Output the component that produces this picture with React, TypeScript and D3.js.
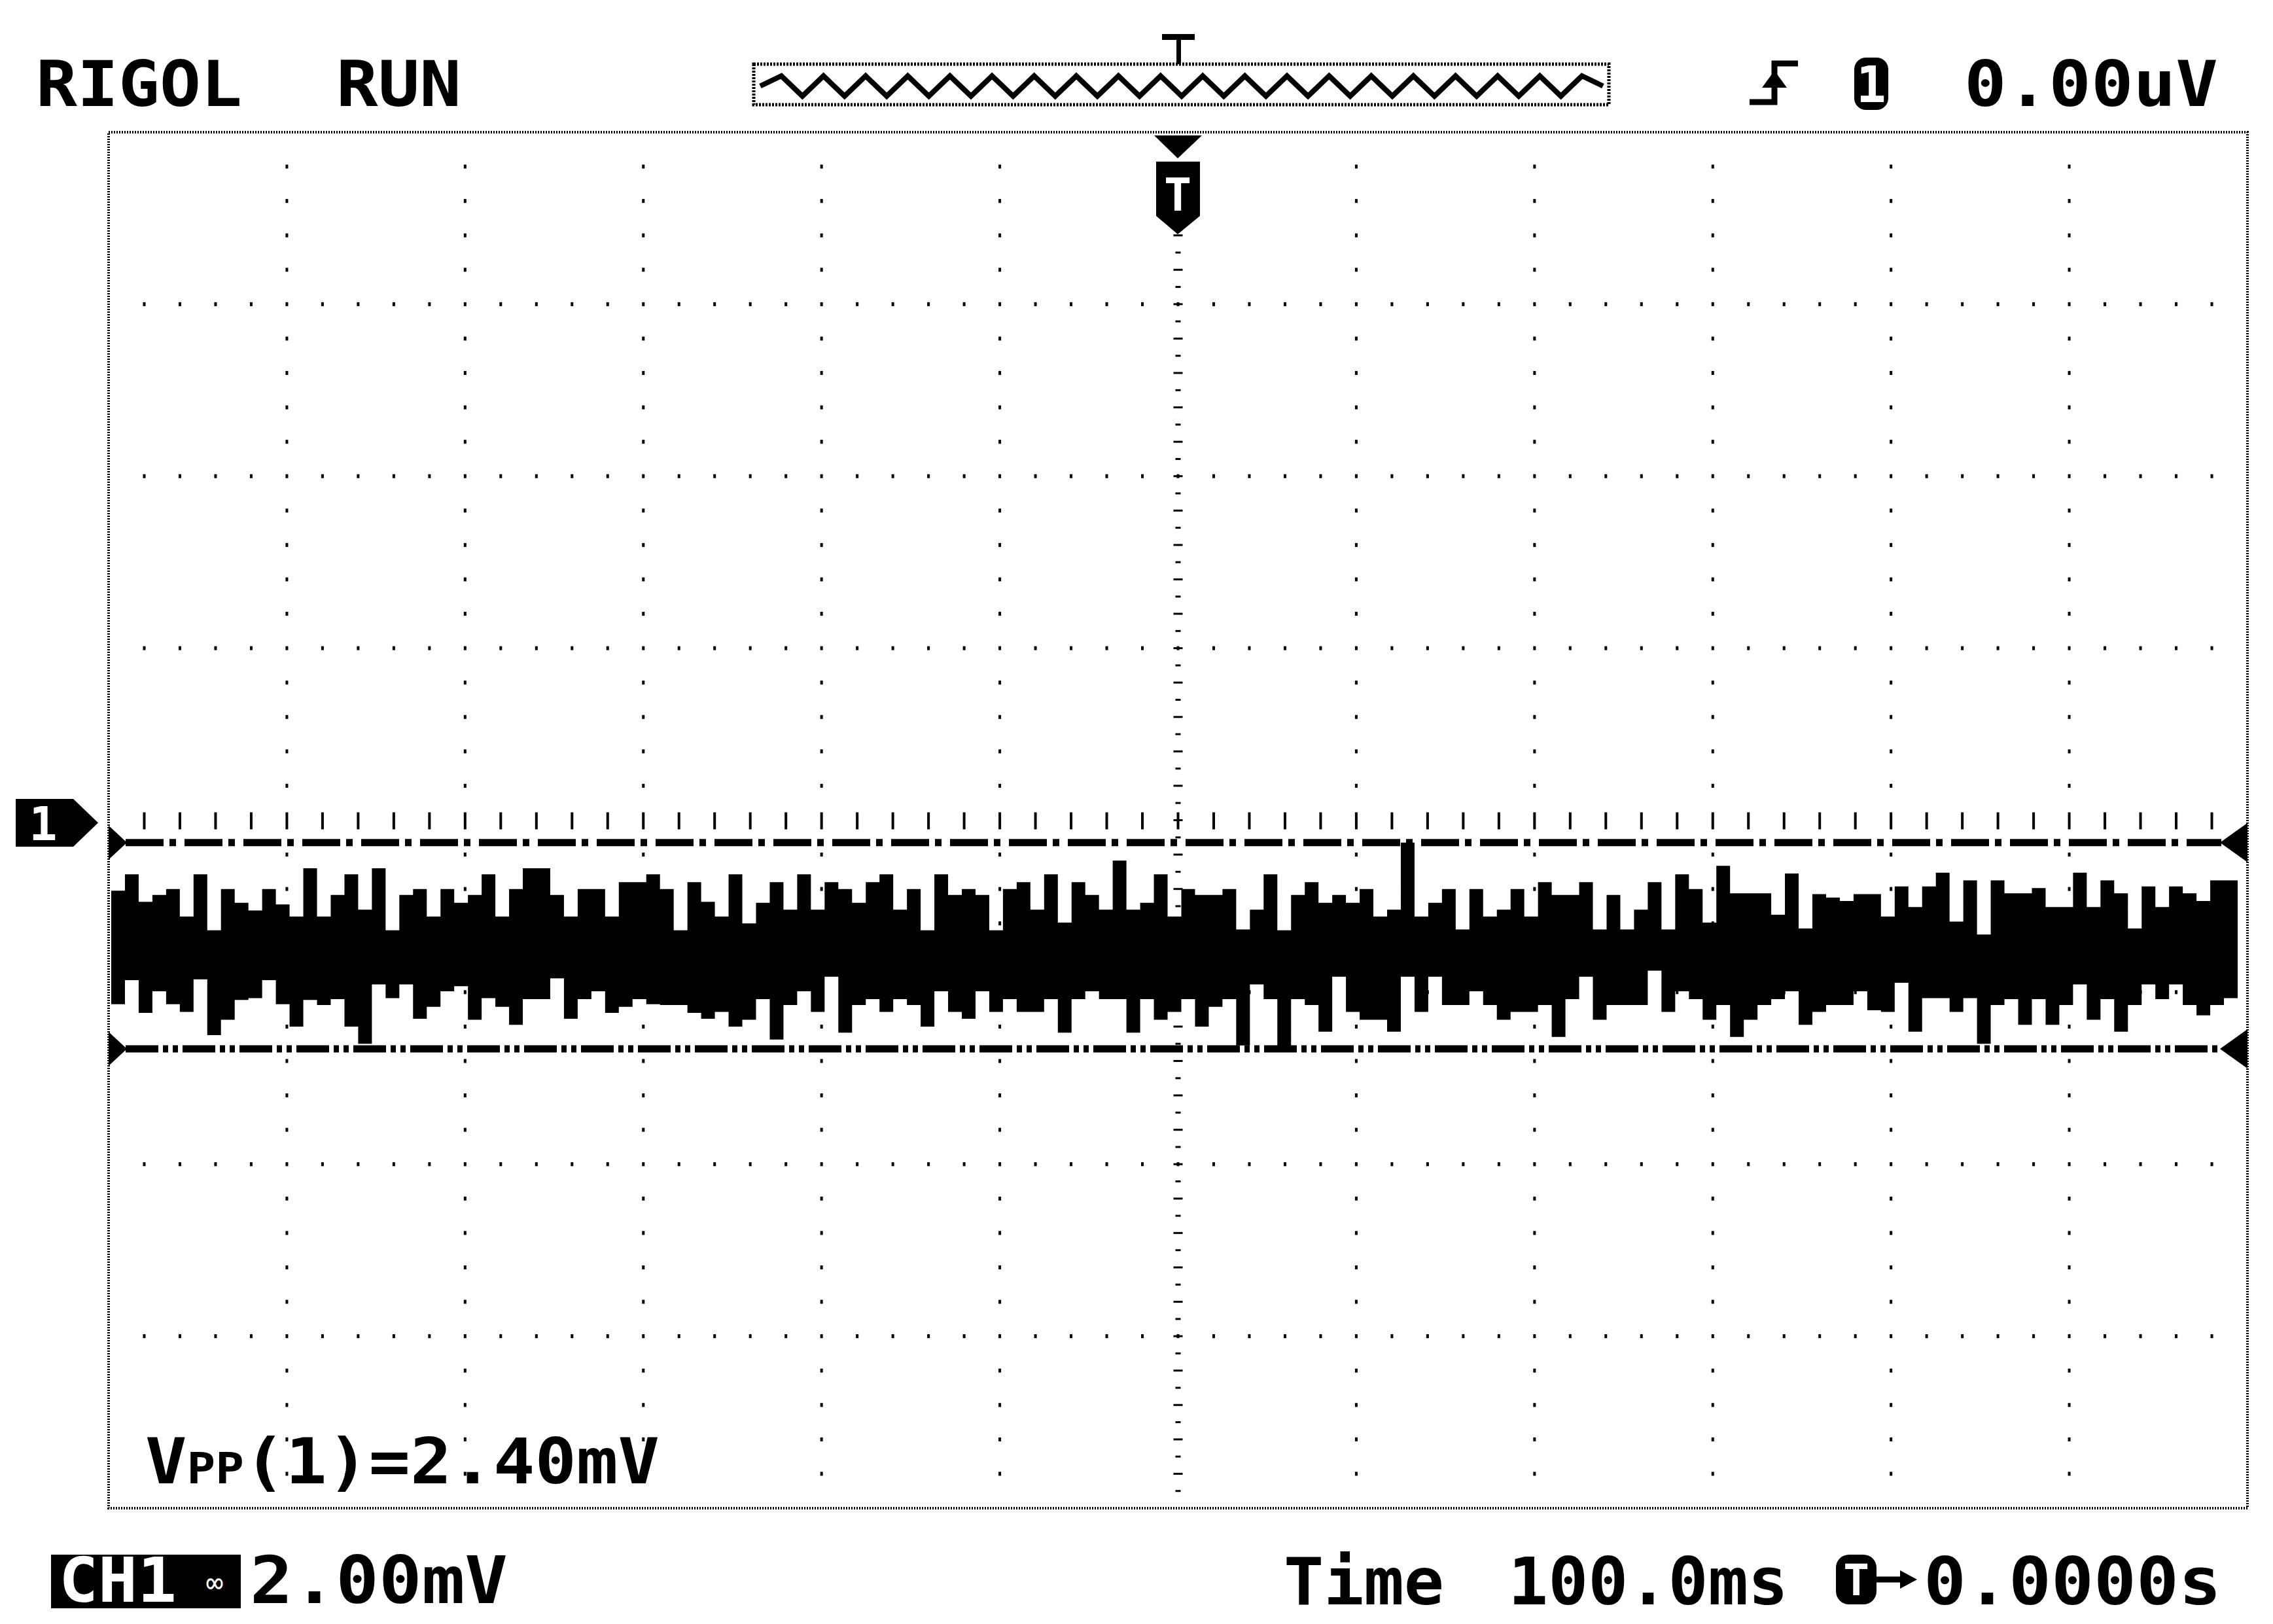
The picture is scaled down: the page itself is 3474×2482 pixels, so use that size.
import React from "react";
import * as d3 from "d3";

const W = 3474;
const H = 2482;

// Screen layout (scope grid)
const H_DIVS = 12;
const V_DIVS = 8;
const MV_PER_DIV = 2.0;

// Header / footer texts
const brandText = "RIGOL";
const runText = "RUN";
const trigLevelText = "0.00uV";
const vppPrefix = "V";
const vppSub = "PP";
const vppRest = "(1)=2.40mV";
const chText = "CH1";
const voltsText = "2.00mV";
const timeLabel = "Time";
const timeBaseText = "100.0ms";
const trigOffsetText = "0.0000s";

// Upper envelope of the noise band (mV), left to right
const upperEnv = [
  -0.82, -0.63, -0.95, -0.87, -0.80, -1.12, -0.63, -1.28, -0.80, -0.96,
  -1.05, -0.80, -0.98, -1.12, -0.56, -1.12, -0.87, -0.63, -1.04, -0.56,
  -1.28, -0.87, -0.80, -1.12, -0.80, -0.96, -0.87, -0.63, -1.12, -0.80,
  -0.56, -0.56, -0.87, -1.12, -0.80, -0.80, -1.12, -0.72, -0.72,
  -0.63, -0.80, -1.28, -0.72, -0.95, -1.12, -0.63, -1.20, -0.96, -0.72,
  -1.04, -0.63, -1.04, -0.72, -0.80, -0.96, -0.72, -0.63, -1.04, -0.80,
  -1.28, -0.63, -0.87, -0.80, -0.87, -1.28, -0.80, -0.72, -1.04, -0.63,
  -1.19, -0.72, -0.87, -1.04, -0.47, -1.04, -0.96, -0.63, -1.12,
  -0.80, -0.87, -0.87, -0.80, -1.27, -1.04, -0.63, -1.28, -0.87, -0.72,
  -0.96, -0.87, -0.96, -0.80, -1.12, -1.04, -0.26, -1.12, -0.96, -0.80,
  -1.27, -0.80, -1.12, -1.04, -0.80, -1.12, -0.72, -0.87, -0.87, -0.72,
  -1.27, -0.87, -1.27, -1.04, -0.72, -1.27, -0.63, -0.80, -1.19,
  -0.53, -0.85, -0.85, -0.85, -1.10, -0.62, -1.26, -0.86, -0.90, -0.94,
  -0.86, -0.86, -1.12, -0.77, -1.01, -0.77, -0.61, -1.18, -0.70, -1.33,
  -0.70, -0.85, -0.85, -0.79, -1.01, -1.01, -0.61, -1.01, -0.70, -0.85,
  -1.26, -0.77, -1.01, -0.77, -0.85, -0.94, -0.70, -0.70,
];

// Lower envelope of the noise band (mV), left to right
const lowerEnv = [
  -2.14, -1.86, -2.24, -1.99, -2.14, -2.23, -1.85, -2.50, -2.32, -2.09,
  -2.07, -1.86, -2.14, -2.40, -2.09, -2.15, -2.08, -2.40, -2.60, -1.91,
  -2.07, -1.91, -2.31, -2.17, -1.99, -1.93, -2.32, -2.07, -2.17, -2.38,
  -2.08, -2.08, -1.84, -2.31, -2.08, -1.99, -2.24, -2.17, -2.08,
  -2.14, -2.15, -2.15, -2.24, -2.31, -2.23, -2.40, -2.32, -2.08, -2.55,
  -2.15, -1.99, -2.23, -1.82, -2.47, -2.15, -2.08, -2.23, -2.08, -2.15,
  -2.40, -1.99, -2.23, -2.31, -1.99, -2.23, -2.08, -2.23, -2.23, -2.08,
  -2.47, -2.08, -1.99, -2.08, -2.08, -2.47, -2.08, -2.32, -2.23,
  -2.08, -2.40, -2.17, -2.08, -2.62, -1.91, -2.08, -2.66, -2.08, -2.15,
  -2.46, -1.82, -2.23, -2.32, -2.32, -2.46, -1.82, -2.23, -1.82, -2.15,
  -2.15, -1.99, -2.15, -2.32, -2.23, -2.23, -2.15, -2.52, -2.08, -1.82,
  -2.32, -2.15, -2.15, -2.15, -1.75, -2.23, -1.99, -2.08, -2.32,
  -2.15, -2.52, -2.32, -2.15, -2.08, -1.99, -2.38, -2.23, -2.15, -2.15,
  -1.99, -2.21, -2.23, -1.89, -2.46, -2.07, -2.07, -2.23, -2.07, -2.60,
  -2.15, -2.08, -2.38, -2.08, -2.38, -2.15, -1.91, -2.32, -2.08, -2.46,
  -2.15, -1.91, -2.08, -1.91, -2.15, -2.27, -2.15, -2.07,
];

// Memory overview zig-zag in the header box (relative level 0..1)
const previewWave = [
  0.5, 1, 0, 1, 0, 1, 0, 1, 0, 1, 0, 1, 0, 1, 0, 1, 0, 1, 0, 1, 0,
  1, 0, 1, 0, 1, 0, 1, 0, 1, 0, 1, 0, 1, 0, 1, 0, 1, 0, 1, 0.5,
];

const FONT = "'DejaVu Sans Mono', monospace";

export default function App() {
  const x0 = 166, x1 = 3435, y0 = 202, y1 = 2305;
  const xDiv = d3.scaleLinear().domain([0, H_DIVS]).range([x0, x1]);
  const yDiv = d3.scaleLinear().domain([0, V_DIVS]).range([y0, y1]);
  const halfRange = (V_DIVS / 2) * MV_PER_DIV;
  const yMv = d3.scaleLinear().domain([-halfRange, halfRange]).range([y1, y0]);

  const N = upperEnv.length;
  const xWave = d3.scaleLinear().domain([0, N]).range([170, 3420]);
  const idx = d3.range(N + 1);
  const clampI = (i: number) => Math.min(i, N - 1);
  const band = d3
    .area<number>()
    .curve(d3.curveStepAfter)
    .x((i) => xWave(i))
    .y0((i) => yMv(lowerEnv[clampI(i)]))
    .y1((i) => yMv(upperEnv[clampI(i)]));

  const vMax = d3.max(upperEnv) as number;
  const vMin = d3.min(lowerEnv) as number;
  const yTop = yMv(vMax);
  const yBot = yMv(vMin);

  // grid dots
  const dots: JSX.Element[] = [];
  for (let j = 1; j < V_DIVS; j++) {
    if (j === V_DIVS / 2) continue;
    const y = yDiv(j);
    for (let k = 1; k < H_DIVS * 5; k++) {
      const x = xDiv(k / 5);
      dots.push(<rect key={`h${j}-${k}`} x={x - 2} y={y - 3} width={4} height={6} fill="#000" />);
    }
  }
  for (let i = 1; i < H_DIVS; i++) {
    if (i === H_DIVS / 2) continue;
    const x = xDiv(i);
    for (let k = 1; k < V_DIVS * 5; k++) {
      if (k % 5 === 0) continue;
      const y = yDiv(k / 5);
      dots.push(<rect key={`v${i}-${k}`} x={x - 2} y={y - 3} width={4} height={6} fill="#000" />);
    }
  }
  // centre vertical axis: small horizontal ticks
  const cx = xDiv(H_DIVS / 2);
  for (let k = 1; k < V_DIVS * 10; k++) {
    const y = yDiv(k / 10);
    const w = k % 2 === 0 ? 14 : 8;
    dots.push(<rect key={`cv${k}`} x={cx - w / 2} y={y - 1.5} width={w} height={3} fill="#000" />);
  }
  // centre horizontal axis: small vertical ticks
  const cy = yDiv(V_DIVS / 2);
  for (let k = 1; k < H_DIVS * 5; k++) {
    const x = xDiv(k / 5);
    dots.push(<rect key={`ch${k}`} x={x - 2} y={cy - 12} width={4} height={26} fill="#000" />);
  }

  // preview zig-zag
  const pvX = d3.scaleLinear().domain([0, previewWave.length - 1]).range([1162, 2450]);
  const pvY = d3.scaleLinear().domain([0, 1]).range([147, 116]);
  const pvLine = d3
    .line<number>()
    .x((_, i) => pvX(i))
    .y((d) => pvY(d));

  const arrowL = (y: number) => `M${x0},${y - 26} L${x0 + 28},${y} L${x0},${y + 26} Z`;
  const arrowR = (y: number) => `M${x1},${y - 30} L${x1 - 42},${y} L${x1},${y + 30} Z`;

  return (
    <svg
      width={W}
      height={H}
      viewBox={`0 0 ${W} ${H}`}
      style={{ position: "absolute", left: 0, top: 0, background: "#fff" }}
    >
      <rect x={0} y={0} width={W} height={H} fill="#fff" />

      {/* Header */}
      <text x={55} y={162} fontFamily={FONT} fontSize={96} fontWeight="bold" textLength={315} lengthAdjust="spacingAndGlyphs" fill="#000">
        {brandText}
      </text>
      <text x={514} y={162} fontFamily={FONT} fontSize={96} fontWeight="bold" textLength={191} lengthAdjust="spacingAndGlyphs" fill="#000">
        {runText}
      </text>

      {/* memory overview box */}
      <rect x={1152} y={98} width={1307} height={62} fill="none" stroke="#000" strokeWidth={5} strokeDasharray="3 2" />
      <path d={pvLine(previewWave) || ""} fill="none" stroke="#000" strokeWidth={8} />
      <rect x={1776} y={52} width={50} height={9} fill="#000" />
      <rect x={1798} y={52} width={7} height={46} fill="#000" />

      {/* trigger edge icon */}
      <path d="M2674,156 H2712 V97 H2748" fill="none" stroke="#000" strokeWidth={9} />
      <path d="M2693,134 L2712,108 L2731,134 Z" fill="#000" />
      {/* channel badge */}
      <rect x={2834} y={88} width={52} height={80} rx={18} fill="#000" />
      <text x={2860} y={156} fontFamily={FONT} fontSize={76} fontWeight="bold" textAnchor="middle" fill="#fff">1</text>
      <text x={3002} y={162} fontFamily={FONT} fontSize={96} fontWeight="bold" textLength={388} lengthAdjust="spacingAndGlyphs" fill="#000">
        {trigLevelText}
      </text>

      {/* plot frame */}
      <rect x={x0} y={y0} width={x1 - x0} height={y1 - y0} fill="none" stroke="#000" strokeWidth={4} strokeDasharray="2 2" />
      {dots}

      {/* trigger position marker */}
      <path d="M1764,207 H1837 L1800,242 Z" fill="#000" />
      <path d="M1767,247 H1834 V330 L1800,358 L1767,330 Z" fill="#000" />
      <text x={1800} y={322} fontFamily={FONT} fontSize={70} fontWeight="bold" textAnchor="middle" fill="#fff">T</text>

      {/* channel ground marker */}
      <path d={`M24,1221 H112 L150,${cy + 4} L112,1294 H24 Z`} fill="#000" />
      <text x={66} y={1284} fontFamily={FONT} fontSize={72} fontWeight="bold" textAnchor="middle" fill="#fff">1</text>

      {/* waveform band */}
      <path d={band(idx) || ""} fill="#000" />

      {/* Vpp cursor lines */}
      <line x1={x0 + 26} x2={x1 - 40} y1={yTop} y2={yTop} stroke="#000" strokeWidth={11} strokeDasharray="58 9 10 13" />
      <line x1={x0 + 26} x2={x1 - 40} y1={yBot} y2={yBot} stroke="#000" strokeWidth={11} strokeDasharray="50 7 8 7 8 7" />
      <path d={arrowL(yTop)} fill="#000" />
      <path d={arrowL(yBot)} fill="#000" />
      <path d={arrowR(yTop)} fill="#000" />
      <path d={arrowR(yBot)} fill="#000" />

      {/* measurement */}
      <text x={222} y={2267} fontFamily={FONT} fontSize={96} fontWeight="bold" textLength={786} lengthAdjust="spacingAndGlyphs" fill="#000">
        {vppPrefix}
        <tspan fontSize={66}>{vppSub}</tspan>
        {vppRest}
      </text>

      {/* Footer */}
      <rect x={78} y={2376} width={290} height={82} fill="#000" />
      <text x={90} y={2448} fontFamily={FONT} fontSize={94} fontWeight="bold" textLength={180} lengthAdjust="spacingAndGlyphs" fill="#fff">
        {chText}
      </text>
      <text x={328} y={2434} fontFamily={FONT} fontSize={44} textAnchor="middle" fill="#fff">∞</text>
      <text x={382} y={2450} fontFamily={FONT} fontSize={100} fontWeight="bold" textLength={394} lengthAdjust="spacingAndGlyphs" fill="#000">
        {voltsText}
      </text>

      <text x={1962} y={2452} fontFamily={FONT} fontSize={100} fontWeight="bold" textLength={245} lengthAdjust="spacingAndGlyphs" fill="#000">
        {timeLabel}
      </text>
      <text x={2305} y={2452} fontFamily={FONT} fontSize={100} fontWeight="bold" textLength={428} lengthAdjust="spacingAndGlyphs" fill="#000">
        {timeBaseText}
      </text>
      <rect x={2806} y={2376} width={62} height={76} rx={20} fill="#000" />
      <text x={2837} y={2438} fontFamily={FONT} fontSize={66} fontWeight="bold" textAnchor="middle" fill="#fff">T</text>
      <path d="M2866,2414 H2912" stroke="#000" strokeWidth={9} />
      <path d="M2904,2400 L2930,2414 L2904,2428 Z" fill="#000" />
      <text x={2940} y={2452} fontFamily={FONT} fontSize={100} fontWeight="bold" textLength={455} lengthAdjust="spacingAndGlyphs" fill="#000">
        {trigOffsetText}
      </text>
    </svg>
  );
}
